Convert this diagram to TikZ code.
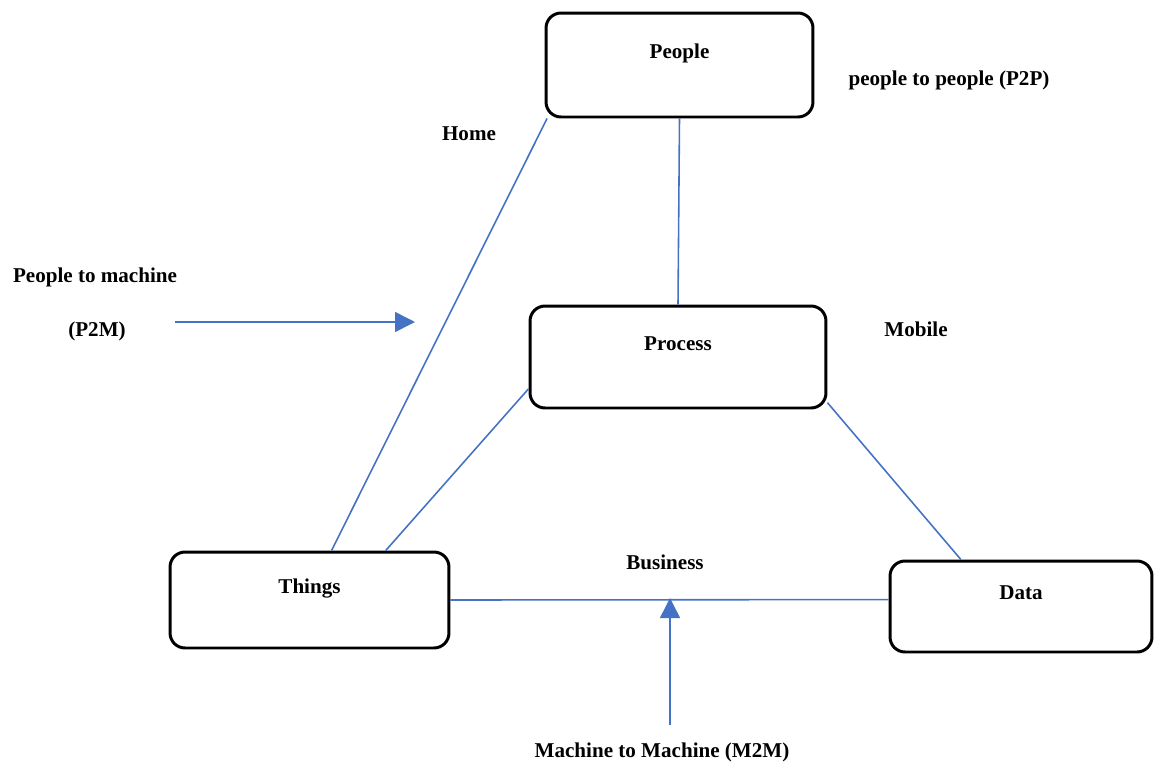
\documentclass[tikz,border=0pt]{standalone}
\usepackage{fontspec}
\setmainfont{Liberation Serif}
\usetikzlibrary{arrows.meta}
\definecolor{linkblue}{HTML}{4472C4}

\begin{document}
\begin{tikzpicture}[x=0.02cm,y=-0.02cm,>={Triangle[length=0.4cm,width=0.4cm]},
        font=\fontsize{12pt}{14pt}\selectfont\bfseries,
        box/.style={draw, rounded corners=0.3cm, line width=1.7pt, text height=8.4pt, text depth=16.2pt},
        link/.style={color=linkblue, line width=0.9pt},
        tag/.style={text height=8pt, text depth=0pt, inner sep=0pt}]
        \useasboundingbox (0,0) rectangle (1154,762);
        % the four boxes
        \node (people) [box, minimum width=5.34cm, minimum height=2.08cm] at (679.5,65) {People};
        \node (process) [box, minimum width=5.92cm, minimum height=2.04cm] at (678,357) {Process};
        \node (things) [box, minimum width=5.58cm, minimum height=1.92cm] at (309.5,600) {Things};
        \node (data) [box, minimum width=5.24cm, minimum height=1.82cm] at (1021,606.5) {Data};
        % free text
        \node (home) [tag] at (469,133) {Home};
        \node (p2p) [tag] at (949,78) {people to people (P2P)};
        \node (mobile) [tag] at (916,329) {Mobile};
        \node (business) [tag] at (665,562) {Business};
        \node (p2m top) [tag] at (95,275) {People to machine};
        \node (p2m) [tag] at (97,329) {(P2M)};
        \node (m2m) [tag] at (662,750) {Machine to Machine (M2M)};
        % links
        \draw[link] (people.south) -- (process.north);
        \draw[link] (people.202) -- (things.66);
        \draw[link] (process.192) -- (things.33);
        \draw[link] (process.-17) -- (data.142);
        \draw[link] (things.east) -- (data.177);
        % arrows
        \coordinate (p2m tail) at (175,322);
        \coordinate (p2m head) at (415,322);
        \coordinate (m2m tail) at (670,725);
        \coordinate (m2m head) at (670,598);
        \draw[link,->] (p2m tail) -- (p2m head);
        \draw[link,->] (m2m tail) -- (m2m head);
    \end{tikzpicture}
\end{document}
